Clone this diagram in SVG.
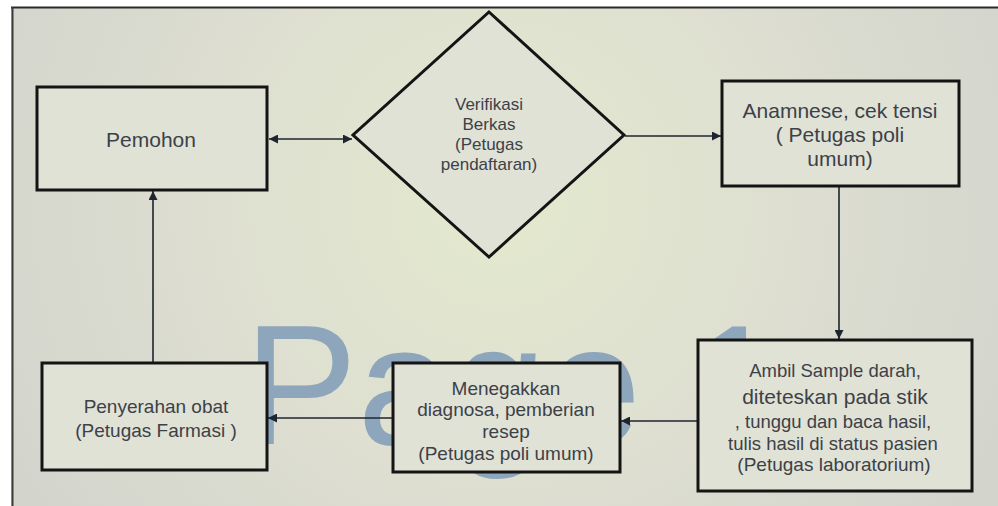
<svg xmlns="http://www.w3.org/2000/svg" width="998" height="506" viewBox="0 0 998 506">
  <defs>
    <radialGradient id="bg" cx="500" cy="200" r="560" gradientUnits="userSpaceOnUse">
      <stop offset="0" stop-color="#e3e9cd"/>
      <stop offset="0.5" stop-color="#dedfd1"/>
      <stop offset="1" stop-color="#d3d4cc"/>
    </radialGradient>
    <marker id="ah" viewBox="0 0 10 10" refX="10" refY="5" markerWidth="9" markerHeight="9" markerUnits="userSpaceOnUse" orient="auto-start-reverse">
      <path d="M0,0 L10,5 L0,10 z" fill="#1e2430"/>
    </marker>
    <style>
      .box { fill: #e1e2d6; stroke: #141414; stroke-width: 3; }
      .t { font-family: "Liberation Sans", Arial, sans-serif; fill: #3c4148; text-anchor: middle; }
      .c { stroke: #1e2430; stroke-width: 1.6; fill: none; }
    </style>
  </defs>

  <rect x="0" y="0" width="998" height="506" fill="#ffffff"/>
  <rect x="11" y="7" width="987" height="499" fill="url(#bg)"/>
  <line x1="11" y1="7.5" x2="998" y2="7.5" stroke="#2a2a2a" stroke-width="2"/>
  <line x1="12.5" y1="7" x2="12.5" y2="506" stroke="#3a3a3a" stroke-width="2"/>

  <!-- watermark -->
  <text x="244" y="444" font-family="Liberation Sans, Arial, sans-serif" font-size="170" fill="#8da6bc">Page 1</text>

  <g id="connectors">
    <line class="c" x1="269" y1="139" x2="352" y2="139" marker-start="url(#ah)" marker-end="url(#ah)"/>
    <line class="c" x1="625" y1="136" x2="721" y2="136" marker-end="url(#ah)"/>
    <line class="c" x1="839" y1="187" x2="839" y2="339" stroke="#48678f" marker-end="url(#ah)"/>
    <line class="c" x1="697" y1="421" x2="621" y2="421" marker-end="url(#ah)"/>
    <line class="c" x1="392" y1="418" x2="268" y2="418" marker-end="url(#ah)"/>
    <line class="c" x1="153" y1="362" x2="153" y2="191" marker-end="url(#ah)"/>
  </g>

  <g id="pemohon">
    <rect class="box" x="37" y="87" width="230" height="103"/>
    <text class="t" x="151" y="147" font-size="21">Pemohon</text>
  </g>

  <g id="verifikasi">
    <polygon class="box" points="489,12 624,135 489,257 353,135"/>
    <text class="t" x="489" y="110" font-size="17">Verifikasi</text>
    <text class="t" x="489" y="130" font-size="17">Berkas</text>
    <text class="t" x="489" y="150" font-size="17">(Petugas</text>
    <text class="t" x="489" y="170" font-size="17">pendaftaran)</text>
  </g>

  <g id="anamnese">
    <rect class="box" x="722" y="81" width="237" height="105"/>
    <text class="t" x="840" y="118" font-size="21">Anamnese, cek tensi</text>
    <text class="t" x="840" y="142" font-size="21">( Petugas poli</text>
    <text class="t" x="840" y="166" font-size="21">umum)</text>
  </g>

  <g id="ambil">
    <rect class="box" x="698" y="340" width="274" height="151"/>
    <text class="t" x="835" y="377" font-size="18.5">Ambil Sample darah,</text>
    <text class="t" x="835" y="404" font-size="21">diteteskan pada stik</text>
    <text class="t" x="833" y="428" font-size="18.5">, tunggu dan baca hasil,</text>
    <text class="t" x="833" y="450" font-size="18.5">tulis hasil di status pasien</text>
    <text class="t" x="834" y="471" font-size="19">(Petugas laboratorium)</text>
  </g>

  <g id="menegakkan">
    <rect class="box" x="393" y="363" width="227" height="109"/>
    <text class="t" x="506" y="395" font-size="19">Menegakkan</text>
    <text class="t" x="506" y="416" font-size="19">diagnosa, pemberian</text>
    <text class="t" x="506" y="438" font-size="19">resep</text>
    <text class="t" x="506" y="460" font-size="19">(Petugas poli umum)</text>
  </g>

  <g id="penyerahan">
    <rect class="box" x="42" y="363" width="225" height="107"/>
    <text class="t" x="156" y="413" font-size="19">Penyerahan obat</text>
    <text class="t" x="156" y="437" font-size="19">(Petugas Farmasi )</text>
  </g>
</svg>
